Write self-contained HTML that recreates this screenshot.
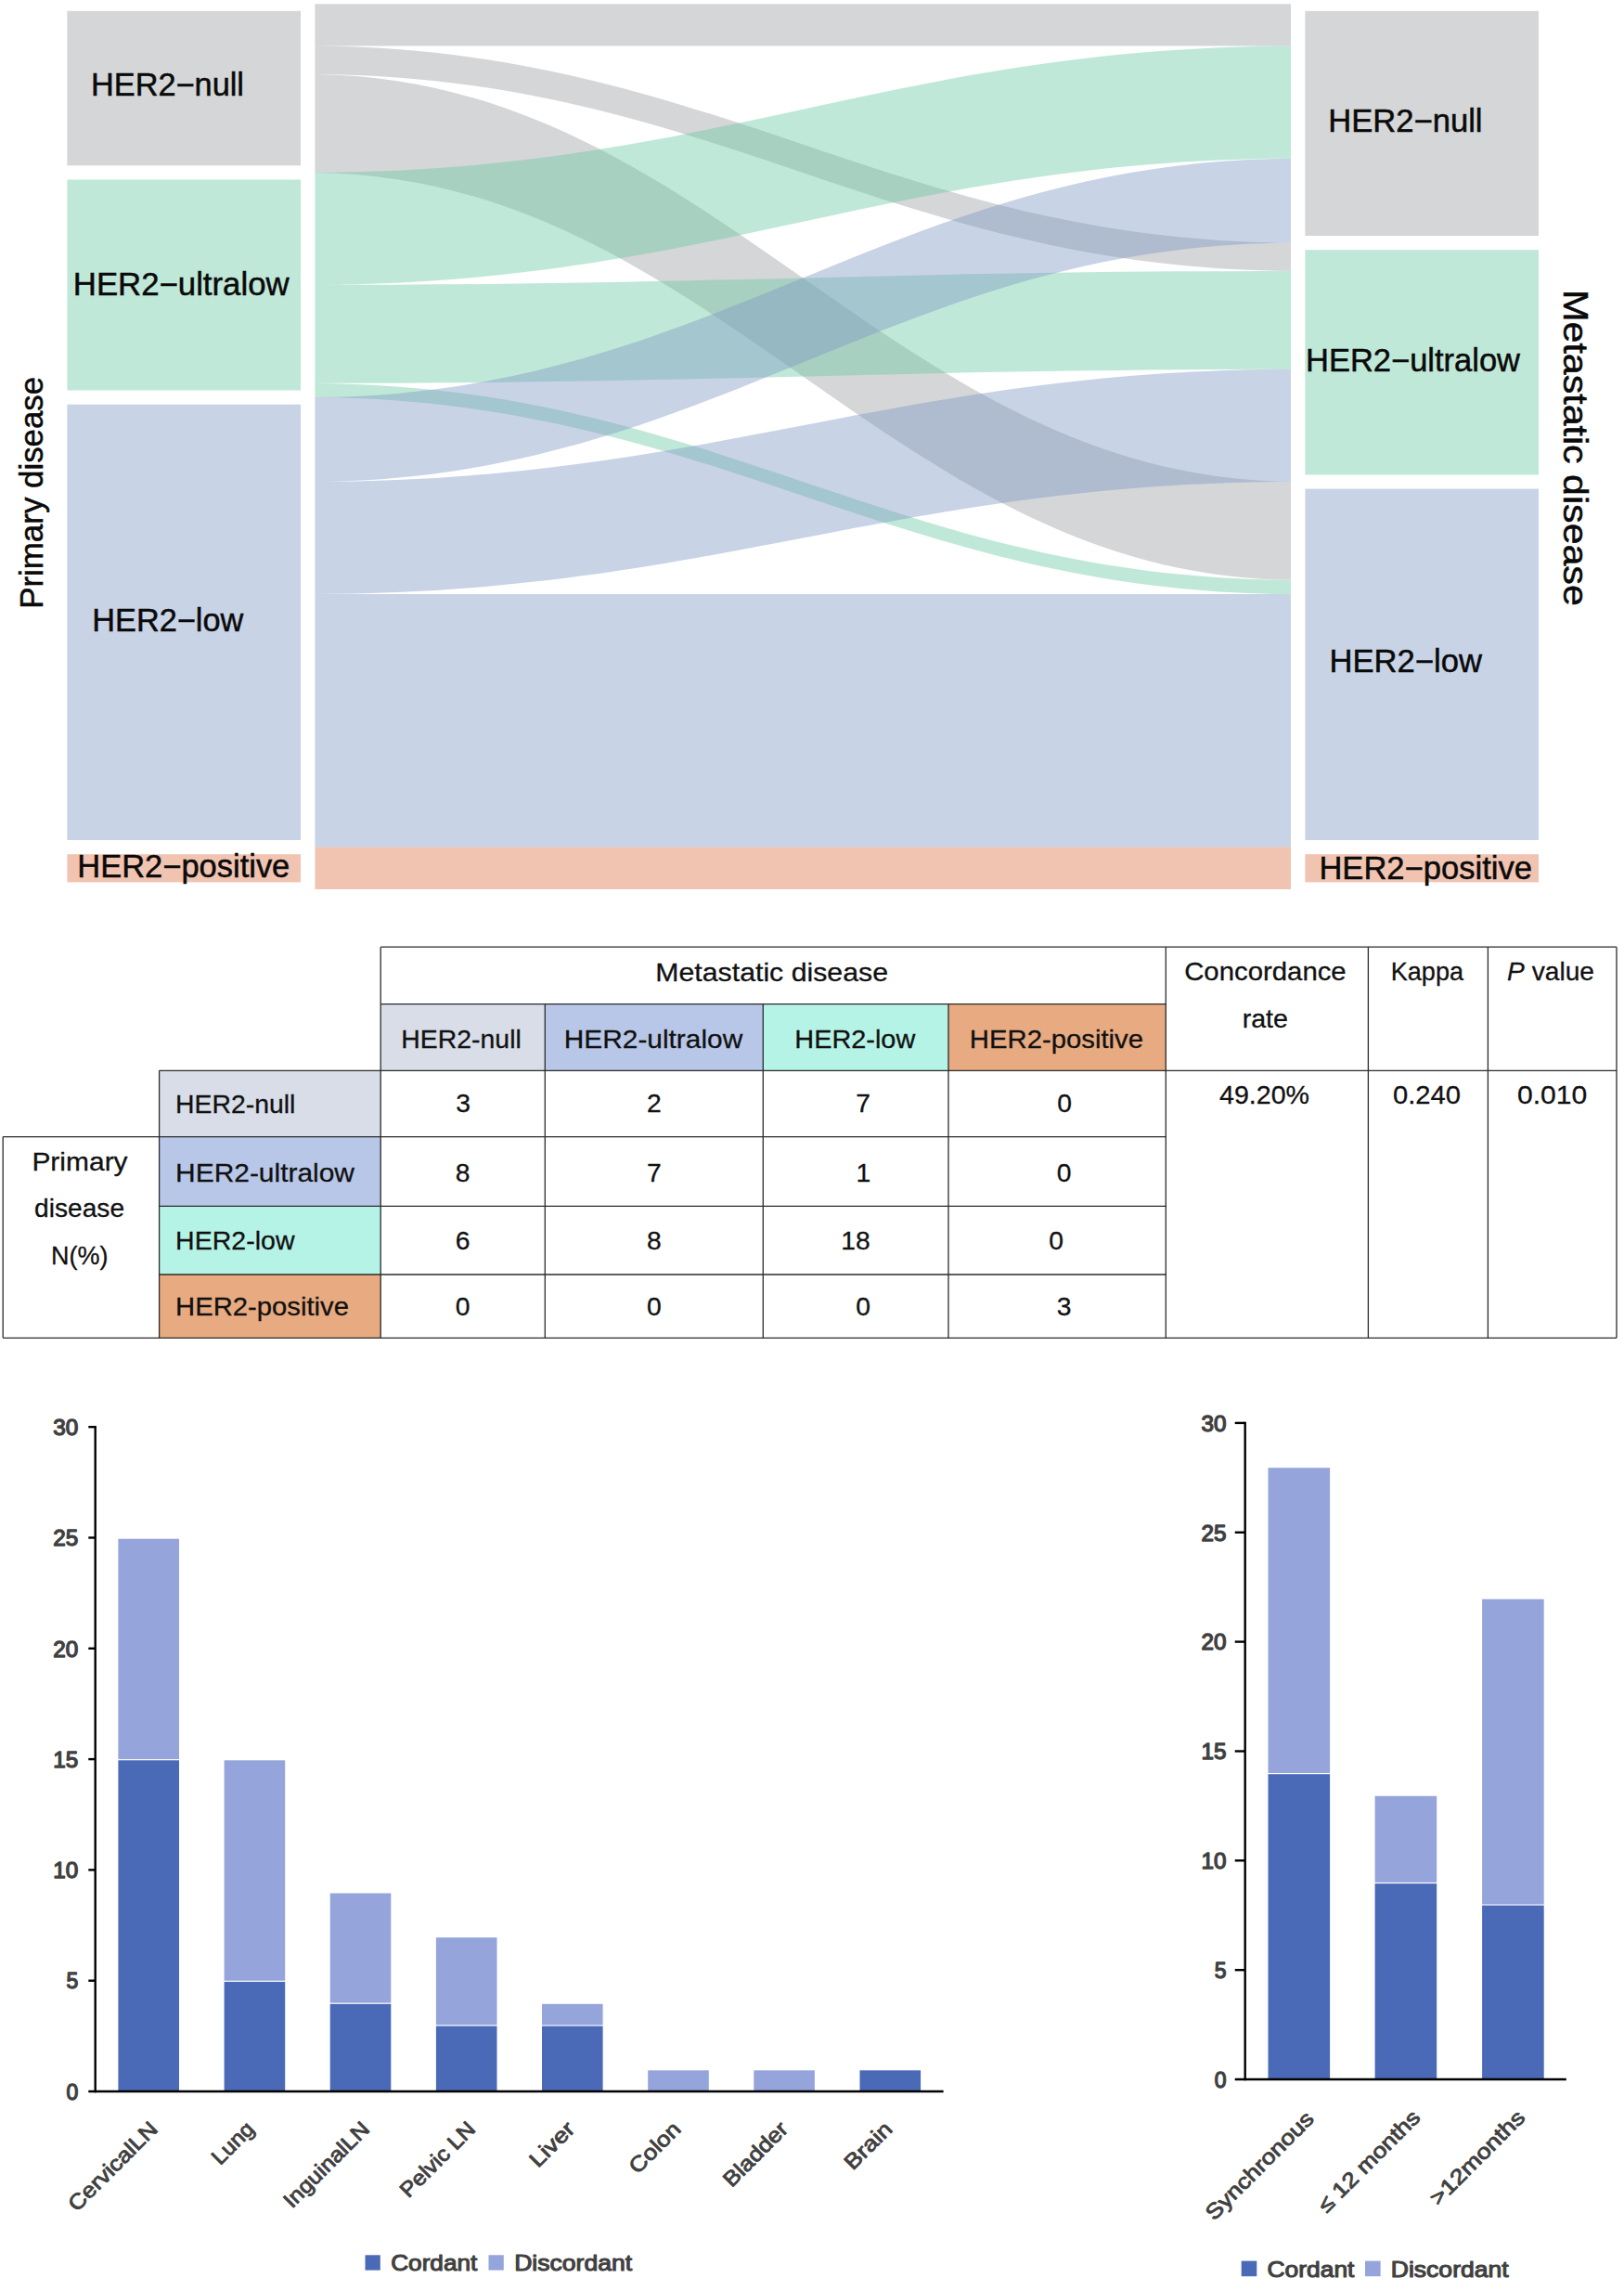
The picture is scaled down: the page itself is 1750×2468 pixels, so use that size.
<!DOCTYPE html>
<html lang="en"><head><meta charset="utf-8"><title>HER2 concordance figure</title>
<style>html,body{margin:0;padding:0;background:#fff}body{width:1750px;height:2468px;overflow:hidden}svg text{font-family:"Liberation Sans",Arial,sans-serif}</style>
</head><body>
<svg width="1750" height="2468" viewBox="0 0 1750 2468" style="display:block">
<rect width="1750" height="2468" fill="#fff"/>
<defs><clipPath id="fc"><rect x="339.4" y="0" width="1051.6" height="1000"/></clipPath></defs>
<g clip-path="url(#fc)">
<path d="M332.0,4.2 C769.2,4.2 961.2,4.2 1398.4,4.2 L1398.4,49.6 C961.2,49.6 769.2,49.6 332.0,49.6 Z" fill="rgb(155,157,161)" fill-opacity="0.42"/>
<path d="M332.0,49.6 C769.2,49.6 961.2,261.6 1398.4,261.6 L1398.4,291.9 C961.2,291.9 769.2,79.9 332.0,79.9 Z" fill="rgb(155,157,161)" fill-opacity="0.42"/>
<path d="M332.0,79.9 C769.2,79.9 961.2,519.0 1398.4,519.0 L1398.4,624.9 C961.2,624.9 769.2,185.9 332.0,185.9 Z" fill="rgb(155,157,161)" fill-opacity="0.42"/>
<path d="M332.0,185.9 C769.2,185.9 961.2,49.6 1398.4,49.6 L1398.4,170.7 C961.2,170.7 769.2,307.0 332.0,307.0 Z" fill="rgb(105,200,162)" fill-opacity="0.42"/>
<path d="M332.0,307.0 C769.2,307.0 961.2,291.9 1398.4,291.9 L1398.4,397.8 C961.2,397.8 769.2,413.0 332.0,413.0 Z" fill="rgb(105,200,162)" fill-opacity="0.42"/>
<path d="M332.0,413.0 C769.2,413.0 961.2,624.9 1398.4,624.9 L1398.4,640.1 C961.2,640.1 769.2,428.1 332.0,428.1 Z" fill="rgb(105,200,162)" fill-opacity="0.42"/>
<path d="M332.0,428.1 C769.2,428.1 961.2,170.7 1398.4,170.7 L1398.4,261.6 C961.2,261.6 769.2,519.0 332.0,519.0 Z" fill="rgb(124,150,195)" fill-opacity="0.42"/>
<path d="M332.0,519.0 C769.2,519.0 961.2,397.8 1398.4,397.8 L1398.4,519.0 C961.2,519.0 769.2,640.1 332.0,640.1 Z" fill="rgb(124,150,195)" fill-opacity="0.42"/>
<path d="M332.0,640.1 C769.2,640.1 961.2,640.1 1398.4,640.1 L1398.4,912.6 C961.2,912.6 769.2,912.6 332.0,912.6 Z" fill="rgb(124,150,195)" fill-opacity="0.42"/>
<path d="M332.0,912.6 C769.2,912.6 961.2,912.6 1398.4,912.6 L1398.4,958.0 C961.2,958.0 769.2,958.0 332.0,958.0 Z" fill="rgb(222,115,72)" fill-opacity="0.42"/>
</g>
<rect x="72.4" y="11.8" width="251.6" height="166.5" fill="rgb(155,157,161)" fill-opacity="0.42"/>
<rect x="1406.4" y="11.8" width="251.6" height="242.2" fill="rgb(155,157,161)" fill-opacity="0.42"/>
<rect x="72.4" y="193.5" width="251.6" height="227.0" fill="rgb(105,200,162)" fill-opacity="0.42"/>
<rect x="1406.4" y="269.2" width="251.6" height="242.2" fill="rgb(105,200,162)" fill-opacity="0.42"/>
<rect x="72.4" y="435.7" width="251.6" height="469.3" fill="rgb(124,150,195)" fill-opacity="0.42"/>
<rect x="1406.4" y="526.6" width="251.6" height="378.4" fill="rgb(124,150,195)" fill-opacity="0.42"/>
<rect x="72.4" y="920.2" width="251.6" height="30.2" fill="rgb(222,115,72)" fill-opacity="0.42"/>
<rect x="1406.4" y="920.2" width="251.6" height="30.2" fill="rgb(222,115,72)" fill-opacity="0.42"/>
<text x="98" y="103" font-size="34.5" textLength="165" lengthAdjust="spacingAndGlyphs" fill="#0a0a0a" stroke="#0a0a0a" stroke-width="0.5">HER2−null</text>
<text x="78.8" y="318.2" font-size="34.5" textLength="232.8" lengthAdjust="spacingAndGlyphs" fill="#0a0a0a" stroke="#0a0a0a" stroke-width="0.5">HER2−ultralow</text>
<text x="99.3" y="679.6" font-size="34.5" textLength="163" lengthAdjust="spacingAndGlyphs" fill="#0a0a0a" stroke="#0a0a0a" stroke-width="0.5">HER2−low</text>
<text x="83.3" y="945" font-size="34.5" textLength="229" lengthAdjust="spacingAndGlyphs" fill="#0a0a0a" stroke="#0a0a0a" stroke-width="0.5">HER2−positive</text>
<text x="1431.3" y="142" font-size="34.5" textLength="166.2" lengthAdjust="spacingAndGlyphs" fill="#0a0a0a" stroke="#0a0a0a" stroke-width="0.5">HER2−null</text>
<text x="1407" y="400.2" font-size="34.5" textLength="231" lengthAdjust="spacingAndGlyphs" fill="#0a0a0a" stroke="#0a0a0a" stroke-width="0.5">HER2−ultralow</text>
<text x="1432.5" y="724.4" font-size="34.5" textLength="164.5" lengthAdjust="spacingAndGlyphs" fill="#0a0a0a" stroke="#0a0a0a" stroke-width="0.5">HER2−low</text>
<text x="1421.4" y="947.3" font-size="34.5" textLength="229.6" lengthAdjust="spacingAndGlyphs" fill="#0a0a0a" stroke="#0a0a0a" stroke-width="0.5">HER2−positive</text>
<text transform="translate(46.3,655.8) rotate(-90)" font-size="35.5" textLength="250" lengthAdjust="spacingAndGlyphs" fill="#0a0a0a" stroke="#0a0a0a" stroke-width="0.5">Primary disease</text>
<text transform="translate(1685,312.3) rotate(90)" font-size="36" textLength="340.5" lengthAdjust="spacingAndGlyphs" fill="#0a0a0a" stroke="#0a0a0a" stroke-width="0.5">Metastatic disease</text>
<rect x="410.2" y="1081.7" width="177.1" height="71.6" fill="#d8dde8"/>
<rect x="171.6" y="1153.3" width="238.6" height="71.3" fill="#d8dde8"/>
<rect x="587.3" y="1081.7" width="235.0" height="71.6" fill="#b8c7e8"/>
<rect x="171.6" y="1224.6" width="238.6" height="74.7" fill="#b8c7e8"/>
<rect x="822.3" y="1081.7" width="199.7" height="71.6" fill="#b5f3e6"/>
<rect x="171.6" y="1299.3" width="238.6" height="73.7" fill="#b5f3e6"/>
<rect x="1022.0" y="1081.7" width="234.3" height="71.6" fill="#e8aa80"/>
<rect x="171.6" y="1373.0" width="238.6" height="68.3" fill="#e8aa80"/>
<line x1="3.2" y1="1224.6" x2="3.2" y2="1441.3" stroke="#2b2b2b" stroke-width="1.3"/>
<line x1="171.6" y1="1153.3" x2="171.6" y2="1441.3" stroke="#2b2b2b" stroke-width="1.3"/>
<line x1="410.2" y1="1020.2" x2="410.2" y2="1441.3" stroke="#2b2b2b" stroke-width="1.3"/>
<line x1="587.3" y1="1081.7" x2="587.3" y2="1441.3" stroke="#2b2b2b" stroke-width="1.3"/>
<line x1="822.3" y1="1081.7" x2="822.3" y2="1441.3" stroke="#2b2b2b" stroke-width="1.3"/>
<line x1="1022.0" y1="1081.7" x2="1022.0" y2="1441.3" stroke="#2b2b2b" stroke-width="1.3"/>
<line x1="1256.3" y1="1020.2" x2="1256.3" y2="1441.3" stroke="#2b2b2b" stroke-width="1.3"/>
<line x1="1474.4" y1="1020.2" x2="1474.4" y2="1441.3" stroke="#2b2b2b" stroke-width="1.3"/>
<line x1="1603.4" y1="1020.2" x2="1603.4" y2="1441.3" stroke="#2b2b2b" stroke-width="1.3"/>
<line x1="1742.0" y1="1020.2" x2="1742.0" y2="1441.3" stroke="#2b2b2b" stroke-width="1.3"/>
<line x1="410.2" y1="1020.2" x2="1742.0" y2="1020.2" stroke="#2b2b2b" stroke-width="1.3"/>
<line x1="410.2" y1="1081.7" x2="1256.3" y2="1081.7" stroke="#2b2b2b" stroke-width="1.3"/>
<line x1="171.6" y1="1153.3" x2="1742.0" y2="1153.3" stroke="#2b2b2b" stroke-width="1.3"/>
<line x1="3.2" y1="1224.6" x2="1256.3" y2="1224.6" stroke="#2b2b2b" stroke-width="1.3"/>
<line x1="171.6" y1="1299.3" x2="1256.3" y2="1299.3" stroke="#2b2b2b" stroke-width="1.3"/>
<line x1="171.6" y1="1373.0" x2="1256.3" y2="1373.0" stroke="#2b2b2b" stroke-width="1.3"/>
<line x1="3.2" y1="1441.3" x2="1742.0" y2="1441.3" stroke="#2b2b2b" stroke-width="1.3"/>
<text x="706.3" y="1056.8" font-size="28.3" textLength="250.7" lengthAdjust="spacingAndGlyphs" fill="#111" stroke="#111" stroke-width="0.3" >Metastatic disease</text>
<text x="432.3" y="1128.5" font-size="28.3" textLength="129.5" lengthAdjust="spacingAndGlyphs" fill="#111" stroke="#111" stroke-width="0.3" >HER2-null</text>
<text x="607.8" y="1128.5" font-size="28.3" textLength="192.4" lengthAdjust="spacingAndGlyphs" fill="#111" stroke="#111" stroke-width="0.3" >HER2-ultralow</text>
<text x="856.3" y="1128.5" font-size="28.3" textLength="130" lengthAdjust="spacingAndGlyphs" fill="#111" stroke="#111" stroke-width="0.3" >HER2-low</text>
<text x="1044.8" y="1128.5" font-size="28.3" textLength="187.2" lengthAdjust="spacingAndGlyphs" fill="#111" stroke="#111" stroke-width="0.3" >HER2-positive</text>
<text x="1276.2" y="1056.2" font-size="28.3" textLength="174.5" lengthAdjust="spacingAndGlyphs" fill="#111" stroke="#111" stroke-width="0.3" >Concordance</text>
<text x="1338.7" y="1107" font-size="28.3" textLength="49.3" lengthAdjust="spacingAndGlyphs" fill="#111" stroke="#111" stroke-width="0.3" >rate</text>
<text x="1498.8" y="1056.2" font-size="28.3" textLength="78.2" lengthAdjust="spacingAndGlyphs" fill="#111" stroke="#111" stroke-width="0.3" >Kappa</text>
<text x="1624" y="1056.2" font-size="28.3" textLength="94" lengthAdjust="spacingAndGlyphs" fill="#111" stroke="#111" stroke-width="0.3"><tspan font-style="italic">P</tspan> value</text>
<text x="1314" y="1189.2" font-size="28.3" textLength="97" lengthAdjust="spacingAndGlyphs" fill="#111" stroke="#111" stroke-width="0.3" >49.20%</text>
<text x="1501" y="1189.2" font-size="28.3" textLength="73" lengthAdjust="spacingAndGlyphs" fill="#111" stroke="#111" stroke-width="0.3" >0.240</text>
<text x="1634.9" y="1189.2" font-size="28.3" textLength="75.4" lengthAdjust="spacingAndGlyphs" fill="#111" stroke="#111" stroke-width="0.3" >0.010</text>
<text x="189.1" y="1199" font-size="28.3" textLength="129.2" lengthAdjust="spacingAndGlyphs" fill="#111" stroke="#111" stroke-width="0.3" >HER2-null</text>
<text x="189.1" y="1272.8" font-size="28.3" textLength="192.9" lengthAdjust="spacingAndGlyphs" fill="#111" stroke="#111" stroke-width="0.3" >HER2-ultralow</text>
<text x="189.1" y="1346.4" font-size="28.3" textLength="128.4" lengthAdjust="spacingAndGlyphs" fill="#111" stroke="#111" stroke-width="0.3" >HER2-low</text>
<text x="189.1" y="1417.2" font-size="28.3" textLength="186.9" lengthAdjust="spacingAndGlyphs" fill="#111" stroke="#111" stroke-width="0.3" >HER2-positive</text>
<text x="34.4" y="1261.1" font-size="28.3" textLength="103.2" lengthAdjust="spacingAndGlyphs" fill="#111" stroke="#111" stroke-width="0.3" >Primary</text>
<text x="37.1" y="1311.2" font-size="28.3" textLength="97" lengthAdjust="spacingAndGlyphs" fill="#111" stroke="#111" stroke-width="0.3" >disease</text>
<text x="55" y="1362.2" font-size="28.3" textLength="61.5" lengthAdjust="spacingAndGlyphs" fill="#111" stroke="#111" stroke-width="0.3" >N(%)</text>
<text x="499.1" y="1198.4" font-size="28.3" text-anchor="middle" fill="#111" stroke="#111" stroke-width="0.3">3</text>
<text x="704.8" y="1198.4" font-size="28.3" text-anchor="middle" fill="#111" stroke="#111" stroke-width="0.3">2</text>
<text x="930" y="1198.4" font-size="28.3" text-anchor="middle" fill="#111" stroke="#111" stroke-width="0.3">7</text>
<text x="1147" y="1198.4" font-size="28.3" text-anchor="middle" fill="#111" stroke="#111" stroke-width="0.3">0</text>
<text x="498.6" y="1272.6" font-size="28.3" text-anchor="middle" fill="#111" stroke="#111" stroke-width="0.3">8</text>
<text x="704.8" y="1272.6" font-size="28.3" text-anchor="middle" fill="#111" stroke="#111" stroke-width="0.3">7</text>
<text x="930.4" y="1272.6" font-size="28.3" text-anchor="middle" fill="#111" stroke="#111" stroke-width="0.3">1</text>
<text x="1146.5" y="1272.6" font-size="28.3" text-anchor="middle" fill="#111" stroke="#111" stroke-width="0.3">0</text>
<text x="498.6" y="1346.4" font-size="28.3" text-anchor="middle" fill="#111" stroke="#111" stroke-width="0.3">6</text>
<text x="704.8" y="1346.4" font-size="28.3" text-anchor="middle" fill="#111" stroke="#111" stroke-width="0.3">8</text>
<text x="922" y="1346.4" font-size="28.3" text-anchor="middle" fill="#111" stroke="#111" stroke-width="0.3">18</text>
<text x="1138.2" y="1346.4" font-size="28.3" text-anchor="middle" fill="#111" stroke="#111" stroke-width="0.3">0</text>
<text x="498.6" y="1417.3" font-size="28.3" text-anchor="middle" fill="#111" stroke="#111" stroke-width="0.3">0</text>
<text x="704.8" y="1417.3" font-size="28.3" text-anchor="middle" fill="#111" stroke="#111" stroke-width="0.3">0</text>
<text x="930" y="1417.3" font-size="28.3" text-anchor="middle" fill="#111" stroke="#111" stroke-width="0.3">0</text>
<text x="1146.5" y="1417.3" font-size="28.3" text-anchor="middle" fill="#111" stroke="#111" stroke-width="0.3">3</text>
<rect x="127.4" y="1896.3" width="65.6" height="356.7" fill="#4a69b7"/>
<rect x="127.4" y="1657.7" width="65.6" height="237.4" fill="#95a5dc"/>
<rect x="241.6" y="2134.9" width="65.6" height="118.1" fill="#4a69b7"/>
<rect x="241.6" y="1896.3" width="65.6" height="237.4" fill="#95a5dc"/>
<rect x="355.7" y="2158.8" width="65.6" height="94.2" fill="#4a69b7"/>
<rect x="355.7" y="2039.5" width="65.6" height="118.1" fill="#95a5dc"/>
<rect x="469.9" y="2182.6" width="65.6" height="70.4" fill="#4a69b7"/>
<rect x="469.9" y="2087.2" width="65.6" height="94.2" fill="#95a5dc"/>
<rect x="584.0" y="2182.6" width="65.6" height="70.4" fill="#4a69b7"/>
<rect x="584.0" y="2158.8" width="65.6" height="22.7" fill="#95a5dc"/>
<rect x="698.2" y="2230.3" width="65.6" height="22.7" fill="#95a5dc"/>
<rect x="812.3" y="2230.3" width="65.6" height="22.7" fill="#95a5dc"/>
<rect x="926.5" y="2230.3" width="65.6" height="22.7" fill="#4a69b7"/>
<line x1="102.7" y1="1536.0" x2="102.7" y2="2254.2" stroke="#000" stroke-width="2.4"/>
<line x1="95.3" y1="2253.0" x2="1016.6" y2="2253.0" stroke="#000" stroke-width="2.4"/>
<line x1="95.3" y1="2133.7" x2="102.7" y2="2133.7" stroke="#000" stroke-width="2.4"/>
<line x1="95.3" y1="2014.4" x2="102.7" y2="2014.4" stroke="#000" stroke-width="2.4"/>
<line x1="95.3" y1="1895.1" x2="102.7" y2="1895.1" stroke="#000" stroke-width="2.4"/>
<line x1="95.3" y1="1775.8" x2="102.7" y2="1775.8" stroke="#000" stroke-width="2.4"/>
<line x1="95.3" y1="1656.5" x2="102.7" y2="1656.5" stroke="#000" stroke-width="2.4"/>
<line x1="95.3" y1="1537.2" x2="102.7" y2="1537.2" stroke="#000" stroke-width="2.4"/>
<text x="71.4" y="2261.7" font-size="24" textLength="12.8" lengthAdjust="spacingAndGlyphs" fill="#404040" stroke="#404040" stroke-width="1.3" stroke-linejoin="round">0</text>
<text x="71.4" y="2142.4" font-size="24" textLength="12.8" lengthAdjust="spacingAndGlyphs" fill="#404040" stroke="#404040" stroke-width="1.3" stroke-linejoin="round">5</text>
<text x="57.2" y="2023.1" font-size="24" textLength="27.0" lengthAdjust="spacingAndGlyphs" fill="#404040" stroke="#404040" stroke-width="1.3" stroke-linejoin="round">10</text>
<text x="57.2" y="1903.8" font-size="24" textLength="27.0" lengthAdjust="spacingAndGlyphs" fill="#404040" stroke="#404040" stroke-width="1.3" stroke-linejoin="round">15</text>
<text x="57.2" y="1784.5" font-size="24" textLength="27.0" lengthAdjust="spacingAndGlyphs" fill="#404040" stroke="#404040" stroke-width="1.3" stroke-linejoin="round">20</text>
<text x="57.2" y="1665.2" font-size="24" textLength="27.0" lengthAdjust="spacingAndGlyphs" fill="#404040" stroke="#404040" stroke-width="1.3" stroke-linejoin="round">25</text>
<text x="57.2" y="1545.9" font-size="24" textLength="27.0" lengthAdjust="spacingAndGlyphs" fill="#404040" stroke="#404040" stroke-width="1.3" stroke-linejoin="round">30</text>
<text transform="translate(171.2,2295) rotate(-45)" text-anchor="end" font-size="23" textLength="125" lengthAdjust="spacingAndGlyphs" fill="#404040" stroke="#404040" stroke-width="0.9" stroke-linejoin="round">CervicalLN</text>
<text transform="translate(275.4,2295) rotate(-45)" text-anchor="end" font-size="23" textLength="54" lengthAdjust="spacingAndGlyphs" fill="#404040" stroke="#404040" stroke-width="0.9" stroke-linejoin="round">Lung</text>
<text transform="translate(399.5,2295) rotate(-45)" text-anchor="end" font-size="23" textLength="120" lengthAdjust="spacingAndGlyphs" fill="#404040" stroke="#404040" stroke-width="0.9" stroke-linejoin="round">InguinalLN</text>
<text transform="translate(513.7,2295) rotate(-45)" text-anchor="end" font-size="23" textLength="104" lengthAdjust="spacingAndGlyphs" fill="#404040" stroke="#404040" stroke-width="0.9" stroke-linejoin="round">Pelvic LN</text>
<text transform="translate(620.8,2295) rotate(-45)" text-anchor="end" font-size="23" textLength="58" lengthAdjust="spacingAndGlyphs" fill="#404040" stroke="#404040" stroke-width="0.9" stroke-linejoin="round">Liver</text>
<text transform="translate(735.0,2295) rotate(-45)" text-anchor="end" font-size="23" textLength="68" lengthAdjust="spacingAndGlyphs" fill="#404040" stroke="#404040" stroke-width="0.9" stroke-linejoin="round">Colon</text>
<text transform="translate(850.6,2295) rotate(-45)" text-anchor="end" font-size="23" textLength="88" lengthAdjust="spacingAndGlyphs" fill="#404040" stroke="#404040" stroke-width="0.9" stroke-linejoin="round">Bladder</text>
<text transform="translate(962.9,2295) rotate(-45)" text-anchor="end" font-size="23" textLength="62" lengthAdjust="spacingAndGlyphs" fill="#404040" stroke="#404040" stroke-width="0.9" stroke-linejoin="round">Brain</text>
<rect x="1366.5" y="1911.2" width="66.6" height="328.8" fill="#4a69b7"/>
<rect x="1366.5" y="1581.2" width="66.6" height="328.8" fill="#95a5dc"/>
<rect x="1481.6" y="2029.1" width="66.6" height="210.9" fill="#4a69b7"/>
<rect x="1481.6" y="1934.8" width="66.6" height="93.1" fill="#95a5dc"/>
<rect x="1597.1" y="2052.6" width="66.6" height="187.4" fill="#4a69b7"/>
<rect x="1597.1" y="1722.7" width="66.6" height="328.8" fill="#95a5dc"/>
<line x1="1341.7" y1="1531.7" x2="1341.7" y2="2241.2" stroke="#000" stroke-width="2.4"/>
<line x1="1330.7" y1="2240.0" x2="1687.8" y2="2240.0" stroke="#000" stroke-width="2.4"/>
<line x1="1330.7" y1="2122.2" x2="1341.7" y2="2122.2" stroke="#000" stroke-width="2.4"/>
<line x1="1330.7" y1="2004.3" x2="1341.7" y2="2004.3" stroke="#000" stroke-width="2.4"/>
<line x1="1330.7" y1="1886.5" x2="1341.7" y2="1886.5" stroke="#000" stroke-width="2.4"/>
<line x1="1330.7" y1="1768.6" x2="1341.7" y2="1768.6" stroke="#000" stroke-width="2.4"/>
<line x1="1330.7" y1="1650.8" x2="1341.7" y2="1650.8" stroke="#000" stroke-width="2.4"/>
<line x1="1330.7" y1="1532.9" x2="1341.7" y2="1532.9" stroke="#000" stroke-width="2.4"/>
<text x="1308.8" y="2248.7" font-size="24" textLength="12.8" lengthAdjust="spacingAndGlyphs" fill="#404040" stroke="#404040" stroke-width="1.3" stroke-linejoin="round">0</text>
<text x="1308.8" y="2130.8" font-size="24" textLength="12.8" lengthAdjust="spacingAndGlyphs" fill="#404040" stroke="#404040" stroke-width="1.3" stroke-linejoin="round">5</text>
<text x="1294.6" y="2013.0" font-size="24" textLength="27.0" lengthAdjust="spacingAndGlyphs" fill="#404040" stroke="#404040" stroke-width="1.3" stroke-linejoin="round">10</text>
<text x="1294.6" y="1895.2" font-size="24" textLength="27.0" lengthAdjust="spacingAndGlyphs" fill="#404040" stroke="#404040" stroke-width="1.3" stroke-linejoin="round">15</text>
<text x="1294.6" y="1777.3" font-size="24" textLength="27.0" lengthAdjust="spacingAndGlyphs" fill="#404040" stroke="#404040" stroke-width="1.3" stroke-linejoin="round">20</text>
<text x="1294.6" y="1659.5" font-size="24" textLength="27.0" lengthAdjust="spacingAndGlyphs" fill="#404040" stroke="#404040" stroke-width="1.3" stroke-linejoin="round">25</text>
<text x="1294.6" y="1541.6" font-size="24" textLength="27.0" lengthAdjust="spacingAndGlyphs" fill="#404040" stroke="#404040" stroke-width="1.3" stroke-linejoin="round">30</text>
<text transform="translate(1417.2,2284.0) rotate(-45)" text-anchor="end" font-size="23" textLength="154" lengthAdjust="spacingAndGlyphs" fill="#404040" stroke="#404040" stroke-width="0.9" stroke-linejoin="round">Synchronous</text>
<text transform="translate(1531.7,2282.5) rotate(-45)" text-anchor="end" font-size="23" textLength="144.6" lengthAdjust="spacingAndGlyphs" fill="#404040" stroke="#404040" stroke-width="0.9" stroke-linejoin="round">≤ 12 months</text>
<text transform="translate(1644.7,2282.5) rotate(-45)" text-anchor="end" font-size="23" textLength="133.8" lengthAdjust="spacingAndGlyphs" fill="#404040" stroke="#404040" stroke-width="0.9" stroke-linejoin="round">&gt;12months</text>
<rect x="393.5" y="2429.3" width="16.3" height="16.3" fill="#4a69b7"/>
<rect x="526.5" y="2429.3" width="16.3" height="16.3" fill="#95a5dc"/>
<text x="421.2" y="2446" font-size="24.5" textLength="93.1" lengthAdjust="spacingAndGlyphs" fill="#404040" stroke="#404040" stroke-width="1.1" stroke-linejoin="round">Cordant</text>
<text x="554.2" y="2446" font-size="24.5" textLength="127" lengthAdjust="spacingAndGlyphs" fill="#404040" stroke="#404040" stroke-width="1.1" stroke-linejoin="round">Discordant</text>
<rect x="1337.7" y="2435.6" width="16.6" height="16.6" fill="#4a69b7"/>
<rect x="1471.0" y="2435.6" width="16.6" height="16.6" fill="#95a5dc"/>
<text x="1365.5" y="2452.5" font-size="24.5" textLength="93.9" lengthAdjust="spacingAndGlyphs" fill="#404040" stroke="#404040" stroke-width="1.1" stroke-linejoin="round">Cordant</text>
<text x="1498.8" y="2452.5" font-size="24.5" textLength="126.8" lengthAdjust="spacingAndGlyphs" fill="#404040" stroke="#404040" stroke-width="1.1" stroke-linejoin="round">Discordant</text>
</svg>
</body></html>
